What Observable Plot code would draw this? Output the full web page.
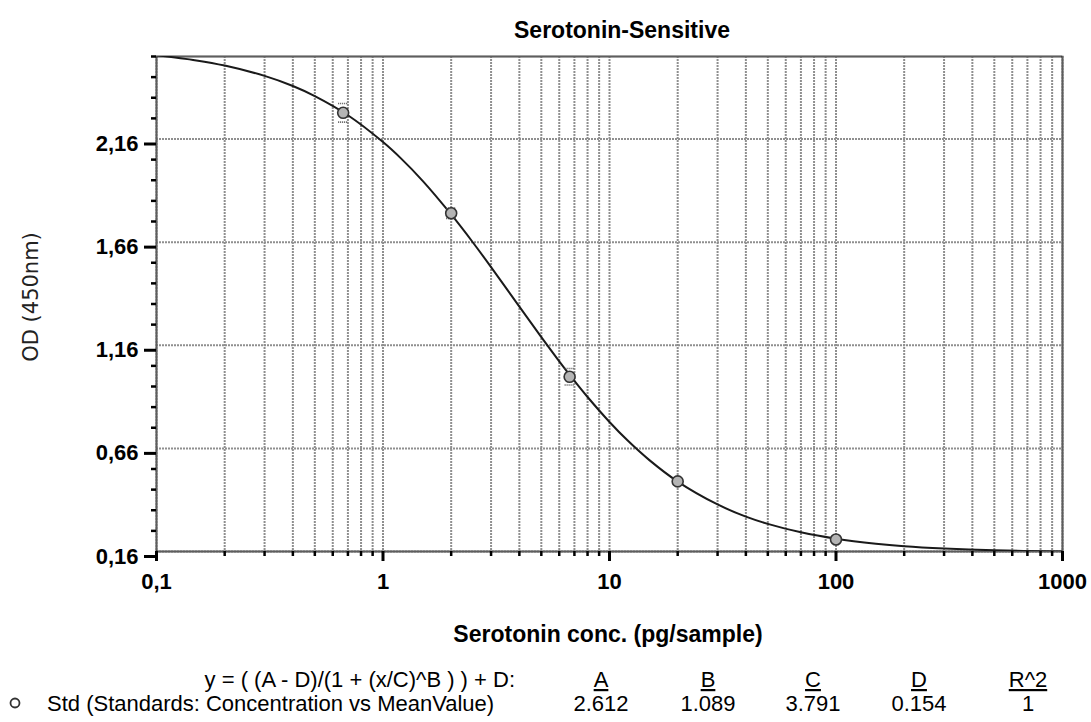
<!DOCTYPE html>
<html>
<head>
<meta charset="utf-8">
<script src="https://cdn.jsdelivr.net/npm/d3@7"></script>
<script src="https://cdn.jsdelivr.net/npm/@observablehq/plot@0.6"></script>
<style>
  html, body { margin: 0; padding: 0; background: #fff; }
  #chart { position: relative; width: 1091px; height: 722px; }
  #chart svg g[aria-label="x-axis tick label"],
  #chart svg g[aria-label="y-axis tick label"] { font-size: 22px; font-weight: bold; }
</style>
</head>
<body>
<div id="chart"></div>
<script>
// ---- Data ----
const title = "Serotonin-Sensitive";
const xLabel = "Serotonin conc. (pg/sample)";
const yLabel = "OD (450nm)";

// Standards (concentration vs mean OD)
const stdX = [0.667, 2, 6.667, 20, 100];
const stdY = [2.287, 1.800, 1.007, 0.500, 0.218];
const stdErr = [0.045, 0.025, 0.040, 0.015, 0.010];

// Fitted 4PL curve, sampled along the drawn line
const curveX = [0.1, 0.15, 0.2, 0.3, 0.4, 0.5, 0.7, 1, 1.2, 1.5, 2, 2.5, 3, 4, 5, 6, 7, 8, 10, 12, 15, 20, 30, 40, 50, 70, 100, 150, 200, 300, 500, 1000];
const curveY = [2.566, 2.541, 2.516, 2.466, 2.417, 2.368, 2.275, 2.145, 2.066, 1.956, 1.794, 1.657, 1.539, 1.347, 1.199, 1.082, 0.987, 0.909, 0.788, 0.699, 0.603, 0.499, 0.388, 0.329, 0.294, 0.253, 0.222, 0.198, 0.186, 0.175, 0.166, 0.160];

// Tick values
const xMajor = [0.1, 1, 10, 100, 1000];
const xMinor = [0.2, 0.3, 0.4, 0.5, 0.6, 0.7, 0.8, 0.9, 2, 3, 4, 5, 6, 7, 8, 9, 20, 30, 40, 50, 60, 70, 80, 90, 200, 300, 400, 500, 600, 700, 800, 900];
const yMajor = [0.16, 0.66, 1.16, 1.66, 2.16];
const yMinor = [0.26, 0.36, 0.46, 0.56, 0.76, 0.86, 0.96, 1.06, 1.26, 1.36, 1.46, 1.56, 1.76, 1.86, 1.96, 2.06, 2.26, 2.36, 2.46, 2.56];

// Fit parameter table
const equationText = "y = ( (A - D)/(1 + (x/C)^B ) ) + D:";
const seriesName = "Std (Standards: Concentration vs MeanValue)";
const paramNames = ["A", "B", "C", "D", "R^2"];
const paramValues = ["2.612", "1.089", "3.791", "0.154", "1"];

// ---- Build tables ----
const std = stdX.map((x, i) => ({x, y: stdY[i], e: stdErr[i]}));
const caps = std.flatMap(d => [{x: d.x, y: d.y + d.e}, {x: d.x, y: d.y - d.e}]);
const curve = curveX.map((x, i) => ({x, y: curveY[i]}));

const hline = {
  draw(ctx, size) {
    const r = Math.sqrt(size / Math.PI);
    ctx.moveTo(-r, 0);
    ctx.lineTo(r, 0);
  }
};

const comma = d => String(d).replace(".", ",");
const commaFixed = d => d.toFixed(2).replace(".", ",");
const FONT = "'Liberation Sans', Arial, sans-serif";
const GRID = {stroke: "#8f8f8f", strokeOpacity: 1, strokeWidth: 2, strokeDasharray: "2,1"};

const plot = Plot.plot({
  width: 1091,
  height: 722,
  marginLeft: 156,
  marginRight: 29,
  marginTop: 56,
  marginBottom: 171,
  style: {fontFamily: FONT, background: "#fff", color: "#000"},
  x: {type: "log", domain: [0.1, 1000]},
  y: {domain: [0.16, 2.56]},
  marks: [
    Plot.gridX([...xMinor, ...xMajor], GRID),
    Plot.gridY(yMajor, GRID),
    Plot.frame({stroke: "#999", strokeWidth: 2}),
    Plot.frame({stroke: "#222", strokeWidth: 2, strokeDasharray: "1,1"}),
    Plot.axisX(xMinor, {tickSize: 5, text: null, label: null, strokeWidth: 2.5, stroke: "#000"}),
    Plot.axisX(xMajor, {tickSize: 10, tickPadding: 12, tickFormat: comma, label: null, fontSize: 22, fontWeight: "bold", strokeWidth: 3, stroke: "#000"}),
    Plot.axisY(yMinor, {tickSize: 5, text: null, label: null, strokeWidth: 2.5, stroke: "#000"}),
    Plot.axisY(yMajor, {tickSize: 12, tickPadding: 6, tickFormat: commaFixed, label: null, fontSize: 22, fontWeight: "bold", strokeWidth: 3, stroke: "#000", dy: 5}),
    Plot.line(curve, {x: "x", y: "y", curve: "catmull-rom", stroke: "#1a1a1a", strokeWidth: 2, clip: true}),
    Plot.dot(caps, {x: "x", y: "y", symbol: hline, r: 5, stroke: "#555", strokeWidth: 1.6, strokeDasharray: "1,1"}),
    Plot.dot(std, {x: "x", y: "y", r: 5.5, stroke: "#333", strokeWidth: 1.6, fill: "#b4b4b4"})
  ]
});

document.getElementById("chart").appendChild(plot);

// ---- Annotations (title, axis labels, fit table) ----
const svg = d3.select(plot);
svg.selectAll("text").attr("font-family", FONT);

function addText(x, y, str, opts = {}) {
  return svg.append("text")
    .attr("x", x).attr("y", y)
    .attr("text-anchor", opts.anchor || "start")
    .attr("font-family", opts.family || FONT)
    .attr("font-size", opts.size || 22)
    .attr("font-weight", opts.weight || "normal")
    .attr("fill", opts.fill || "#000")
    .text(str);
}

addText(622, 38, title, {anchor: "middle", size: 23, weight: "bold"});
addText(608, 642, xLabel, {anchor: "middle", size: 23, weight: "bold"});
addText(0, 0, yLabel, {anchor: "middle", size: 21, family: "'DejaVu Sans', sans-serif", fill: "#222"})
  .attr("transform", "translate(38,297) rotate(-90)");

addText(515, 687, equationText, {anchor: "end"});

svg.append("circle")
  .attr("cx", 15).attr("cy", 703).attr("r", 4.5)
  .attr("fill", "none").attr("stroke", "#333").attr("stroke-width", 1.8);

addText(47, 711, seriesName);

const colX = [601, 708, 813, 919, 1028];
paramNames.forEach((n, i) => {
  addText(colX[i], 687, n, {anchor: "middle"}).attr("text-decoration", "underline");
  addText(colX[i], 711, paramValues[i], {anchor: "middle"});
});
</script>
</body>
</html>
